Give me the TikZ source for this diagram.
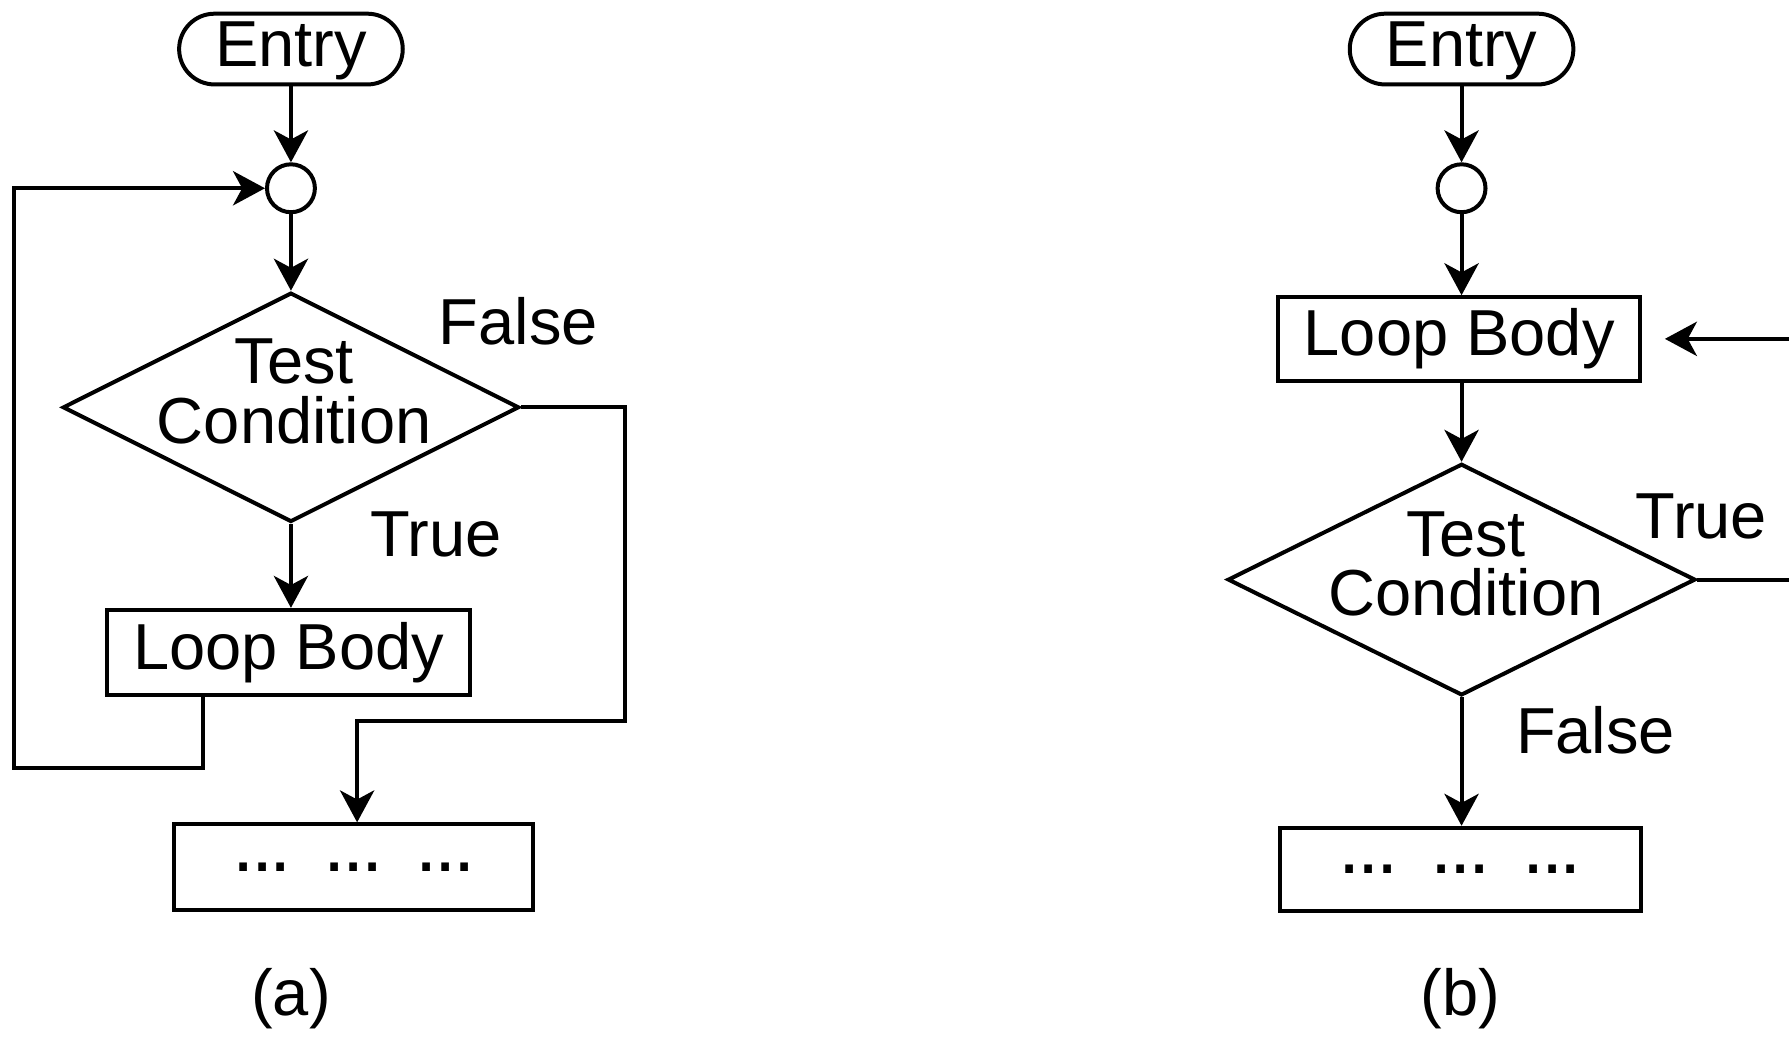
\documentclass[tikz,border=0pt]{standalone}
\usepackage{fontspec}
\setmainfont{Liberation Sans}
\usetikzlibrary{shapes.geometric, arrows.meta}
\newcommand{\dotgroup}{.\kern-3pt.\kern-3pt.}
\begin{document}
\begin{tikzpicture}[x=1pt,y=-1pt,
  line width=3.5pt,
  every node/.style={font=\fontsize{57}{52}\selectfont, inner sep=0pt},
  arr/.style={-{Stealth[length=28pt,width=30pt,inset=8pt]}},
  entrybox/.style={draw, rectangle, rounded corners=31pt, minimum width=196pt, minimum height=62pt, fill=white},
  joint/.style={draw, circle, minimum size=42pt},
  procbox/.style={draw, rectangle, minimum width=318pt, minimum height=75pt},
  decision/.style={draw, diamond, minimum width=400pt, minimum height=201pt},
  lbl/.style={anchor=base west},
  captext/.style={anchor=base},
  dotstext/.style={font=\fontsize{70}{70}\selectfont},
]
\useasboundingbox (0,0) rectangle (1568,910);

% ---------- (a) ----------
\node[entrybox, text depth=14pt, text height=44pt] (ea) at (255,43) {Entry};
\node[joint] (ca) at (255,165) {};
\node[decision] (da) at (255,357) {};
\node[align=center] (ta) at (258,343) {Test\\Condition};
\node[procbox] (la) at (253,572) {Loop Body};
\node[procbox, minimum width=315pt, dotstext] (xa) at (310,760) {\dotgroup\hspace{28pt}\dotgroup\hspace{28pt}\dotgroup};
\node[lbl] (fla) at (383,302) {False};
\node[lbl] (tla) at (323,488) {True};
\node[captext] (capa) at (255,890) {(a)};

\coordinate (fa) at (178,673);
\coordinate (fl) at (12,673);
\coordinate (fr) at (548,632);
\coordinate (fd) at (313,632);

\draw[arr] (ea) -- (ca);
\draw[arr] (ca) -- (da);
\draw[arr] (da) -- (da |- la.north);
\draw[arr] (la.south -| fa) -- (fa) -- (fl) -- (fl |- ca) -- (ca);
\draw[arr] (da.east) -- (da.east -| fr) -- (fr) -- (fd) -- (fd |- xa.north);

% ---------- (b) ----------
\node[entrybox, text depth=14pt, text height=44pt] (eb) at (1281,43) {Entry};
\node[joint] (cb) at (1281,165) {};
\node[procbox, minimum width=317pt, minimum height=73pt] (lb) at (1279,297) {Loop Body};
\node[decision, minimum width=410pt, minimum height=203pt] (db) at (1281,508) {};
\node[align=center] (tb) at (1285,494) {Test\\Condition};
\node[procbox, minimum width=316pt, minimum height=73pt, dotstext] (xb) at (1280,762) {\dotgroup\hspace{28pt}\dotgroup\hspace{28pt}\dotgroup};
\node[lbl] (tlb) at (1432,472) {True};
\node[lbl] (flb) at (1327,660) {False};
\node[captext] (capb) at (1280,890) {(b)};

\coordinate (tr) at (1620,508);

\draw[arr] (eb) -- (cb);
\draw[arr] (cb) -- (cb |- lb.north);
\draw[arr] (lb.south -| db) -- (db.north);
\draw[arr] (db.south) -- (db.south |- xb.north);
\draw[arr, shorten >=20pt] (db.east) -- (tr) -- (tr |- lb) -- (lb.east);
\end{tikzpicture}
\end{document}
